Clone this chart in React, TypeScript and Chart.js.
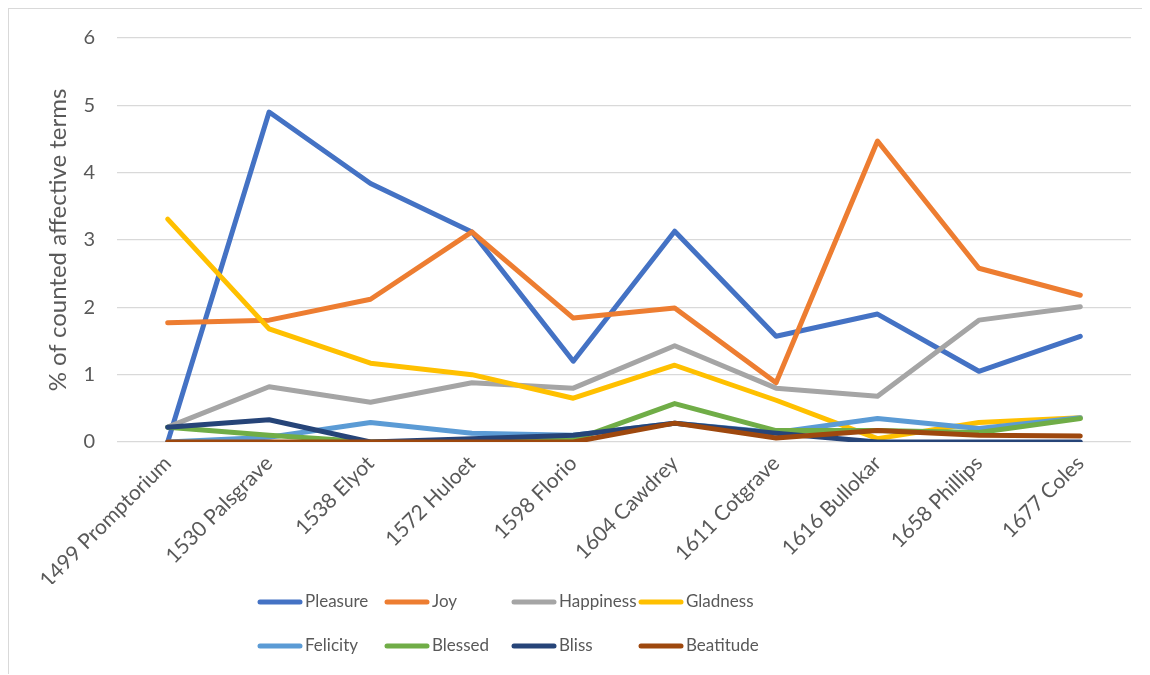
import React, { useEffect, useRef } from "react";
import { Chart, registerables } from "chart.js";

Chart.register(...registerables);

const categories = [
  "1499 Promptorium",
  "1530 Palsgrave",
  "1538 Elyot",
  "1572 Huloet",
  "1598 Florio",
  "1604 Cawdrey",
  "1611 Cotgrave",
  "1616 Bullokar",
  "1658 Phillips",
  "1677 Coles",
];

const pleasure = [0, 4.9, 3.84, 3.12, 1.2, 3.13, 1.57, 1.9, 1.05, 1.57];
const joy = [1.77, 1.81, 2.12, 3.12, 1.84, 1.99, 0.88, 4.47, 2.58, 2.18];
const happiness = [0.22, 0.82, 0.59, 0.88, 0.8, 1.43, 0.8, 0.68, 1.81, 2.01];
const gladness = [3.31, 1.68, 1.17, 1.0, 0.65, 1.14, 0.62, 0.05, 0.29, 0.36];
const felicity = [0, 0.07, 0.29, 0.13, 0.1, 0.28, 0.14, 0.35, 0.2, 0.36];
const blessed = [0.22, 0.1, 0, 0, 0.03, 0.57, 0.17, 0.17, 0.14, 0.35];
const bliss = [0.22, 0.33, 0, 0.05, 0.1, 0.28, 0.13, 0, 0, 0];
const beatitude = [0, 0, 0, 0, 0, 0.28, 0.06, 0.17, 0.1, 0.09];

const seriesNames = ["Pleasure", "Joy", "Happiness", "Gladness", "Felicity", "Blessed", "Bliss", "Beatitude"];
const seriesValues = [pleasure, joy, happiness, gladness, felicity, blessed, bliss, beatitude];
const seriesColors = ["#4472C4", "#ED7D31", "#A5A5A5", "#FFC000", "#5B9BD5", "#70AD47", "#264478", "#9E480E"];

const yTicks = [0, 1, 2, 3, 4, 5, 6];
const yTitle = "% of counted affective terms";

const FONT = "Lato";
const TEXT = "#595959";

const legendPlugin = {
  id: "gridLegend",
  afterDraw(chart: any) {
    const ctx = chart.ctx;
    ctx.save();
    ctx.font = `17px ${FONT}`;
    ctx.textBaseline = "middle";
    ctx.textAlign = "left";
    chart.data.datasets.forEach((ds: any, i: number) => {
      const col = i % 4;
      const row = Math.floor(i / 4);
      const x0 = 249 + col * 127;
      const y = 593 + row * 44;
      ctx.strokeStyle = ds.borderColor;
      ctx.lineWidth = 5;
      ctx.lineCap = "round";
      ctx.beginPath();
      ctx.moveTo(x0 + 2, y);
      ctx.lineTo(x0 + 42, y);
      ctx.stroke();
      ctx.fillStyle = TEXT;
      ctx.fillText(ds.label, x0 + 47, y);
    });
    ctx.restore();
  },
};

export default function App() {
  const ref = useRef<HTMLCanvasElement>(null);
  useEffect(() => {
    if (!ref.current) return;
    const chart = new Chart(ref.current, {
      type: "line",
      data: {
        labels: categories,
        datasets: seriesNames.map((name, i) => ({
          label: name,
          data: seriesValues[i],
          borderColor: seriesColors[i],
          backgroundColor: seriesColors[i],
          borderWidth: 5,
          pointRadius: 0,
          tension: 0,
          fill: false,
          borderCapStyle: "round" as const,
          borderJoinStyle: "round" as const,
          order: seriesNames.length - i,
        })),
      },
      options: {
        animation: false,
        responsive: true,
        maintainAspectRatio: false,
        layout: { padding: { top: 29, left: 35, right: 11, bottom: 90 } },
        plugins: {
          legend: { display: false },
          tooltip: { enabled: false },
        },
        scales: {
          x: {
            offset: true,
            grid: { display: false, drawTicks: false },
            border: { display: false },
            ticks: {
              color: TEXT,
              font: { family: FONT, size: 21 },
              minRotation: 45,
              maxRotation: 45,
              autoSkip: false,
              padding: 9,
            },
            afterFit(scale: any) {
              scale.height = 142;
            },
          },
          y: {
            min: 0,
            max: 6,
            afterBuildTicks(scale: any) {
              scale.ticks = yTicks.map((v) => ({ value: v }));
            },
            grid: { color: "#D9D9D9", lineWidth: 1.3, drawTicks: false },
            border: { display: false },
            ticks: {
              color: TEXT,
              font: { family: FONT, size: 20 },
              padding: 22,
            },
            title: {
              display: true,
              text: yTitle,
              color: TEXT,
              font: { family: FONT, size: 24 },
              padding: { top: 0, bottom: 0 },
            },
            afterFit(scale: any) {
              scale.width = 73;
              scale.paddingTop = 0;
              scale.paddingBottom = 0;
            },
          },
        },
      },
      plugins: [legendPlugin],
    });
    return () => chart.destroy();
  }, []);

  return (
    <div
      style={{
        width: 1134,
        height: 666,
        borderTop: "1px solid #D9D9D9",
        borderLeft: "1px solid #D9D9D9",
        boxSizing: "border-box",
        position: "relative",
      }}
    >
      <div style={{ position: "relative", width: 1133, height: 665 }}>
        <canvas ref={ref} />
      </div>
    </div>
  );
}
